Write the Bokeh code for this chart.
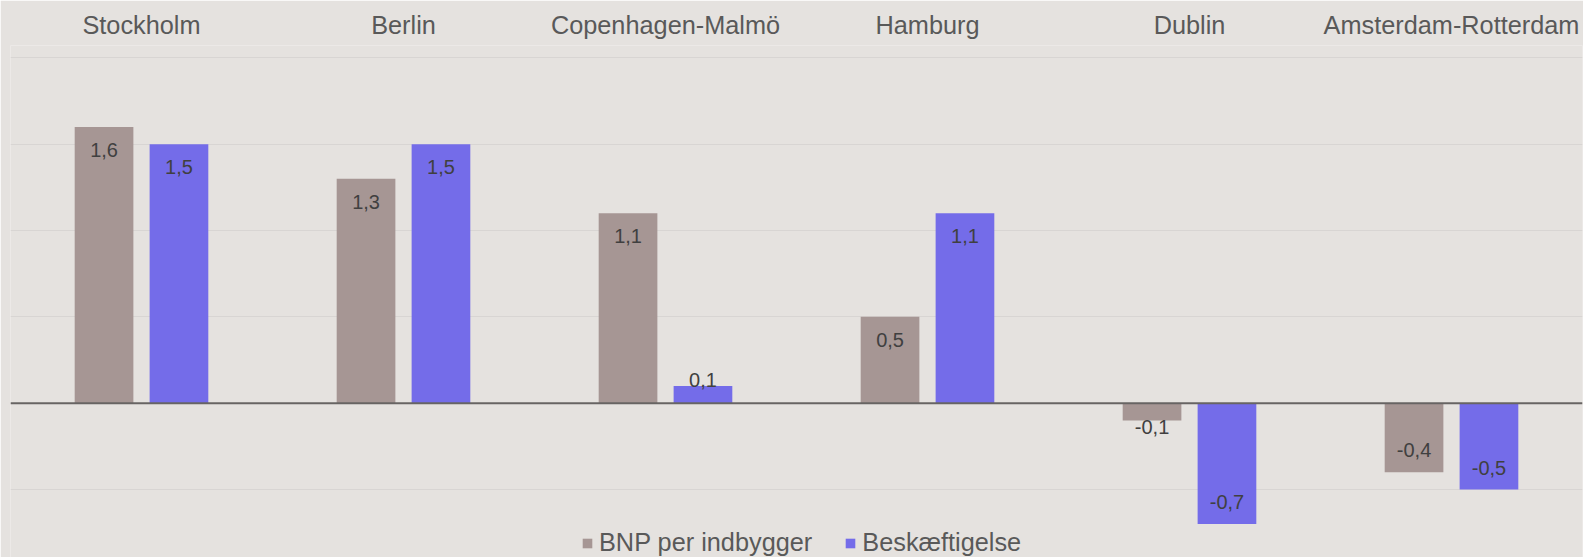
from bokeh.plotting import figure
from bokeh.models import FactorRange, Range1d, Span, SingleIntervalTicker, ColumnDataSource
from bokeh.transform import dodge
from bokeh.embed import file_html
from bokeh.resources import INLINE
from bokeh.core.properties import value

cities = ["Stockholm", "Berlin", "Copenhagen-Malmö", "Hamburg", "Dublin", "Amsterdam-Rotterdam"]
bnp = [1.6, 1.3, 1.1, 0.5, -0.1, -0.4]
emp = [1.5, 1.5, 0.1, 1.1, -0.7, -0.5]
series_names = ["BNP per indbygger", "Beskæftigelse"]

BG = "#E5E2DF"
C_BNP = "#A69694"
C_EMP = "#746CE9"
FONT = "Liberation Sans"

W, H = 1583, 557
TOP, BOTTOM, LEFT, RIGHT = 45, 0, 10, 1
Y0, Y1 = -0.8935, 2.0712

p = figure(width=W, height=H, x_range=FactorRange(factors=cities, range_padding=0),
           y_range=Range1d(Y0, Y1), x_axis_location="above",
           output_backend="svg", toolbar_location=None,
           min_border_top=TOP, min_border_bottom=BOTTOM,
           min_border_left=LEFT, min_border_right=RIGHT)
p.background_fill_color = BG
p.border_fill_color = BG
p.outline_line_color = None

p.yaxis.visible = False
p.xgrid.grid_line_color = None
p.ygrid.ticker = SingleIntervalTicker(interval=0.5)
p.ygrid.grid_line_color = "#D8D5D3"
p.ygrid.grid_line_width = 1

ax = p.xaxis[0]
ax.axis_line_color = None
ax.major_tick_line_color = None
ax.minor_tick_line_color = None
ax.major_tick_out = 0
ax.major_tick_in = 0
ax.major_label_standoff = 7
ax.major_label_text_font = FONT
ax.major_label_text_font_size = "25.3px"
ax.major_label_text_color = "#595959"

OFF = 0.143
BW = 0.224

src = ColumnDataSource(dict(city=cities, bnp=bnp, emp=emp))
p.vbar(x=dodge("city", -OFF, range=p.x_range), top="bnp", width=BW, source=src,
       fill_color=C_BNP, line_color=None, legend_label=series_names[0])
p.vbar(x=dodge("city", OFF, range=p.x_range), top="emp", width=BW, source=src,
       fill_color=C_EMP, line_color=None, legend_label=series_names[1])

p.add_layout(Span(location=0, dimension="width", line_color="#676463", line_width=2))

# data labels (inside end, or just outside the zero line for short bars)
frame_h = H - TOP - BOTTOM
ppu = frame_h / (Y1 - Y0)

def label_data(vals):
    ys, offs, txt = [], [], []
    for v in vals:
        if abs(v) * ppu >= 40:
            y = v
            off = 23 if v > 0 else -22
        else:
            y = 0
            off = -23.5 if v > 0 else 23.5
        ys.append(y)
        offs.append(off)
        txt.append(f"{v:.1f}".replace(".", ","))
    return dict(x=list(cities), y=ys, off=offs, t=txt)

for vals, shift in ((bnp, -OFF), (emp, OFF)):
    d = ColumnDataSource(label_data(vals))
    p.text(x=dodge("x", shift, range=p.x_range), y="y", text="t", y_offset="off", source=d,
           text_align="center", text_baseline="middle",
           text_font=value(FONT), text_font_size="20px", text_color="#404040")

lg = p.legend[0]
lg.location = (571, 0)
lg.orientation = "horizontal"
lg.background_fill_alpha = 0
lg.border_line_color = None
lg.padding = 0
lg.margin = 0
lg.spacing = 32
lg.glyph_width = 12
lg.glyph_height = 12
lg.label_standoff = 6
lg.label_text_font = FONT
lg.label_text_font_size = "25.3px"
lg.label_text_color = "#595959"

open("out.html", "w").write(file_html(p, INLINE))
